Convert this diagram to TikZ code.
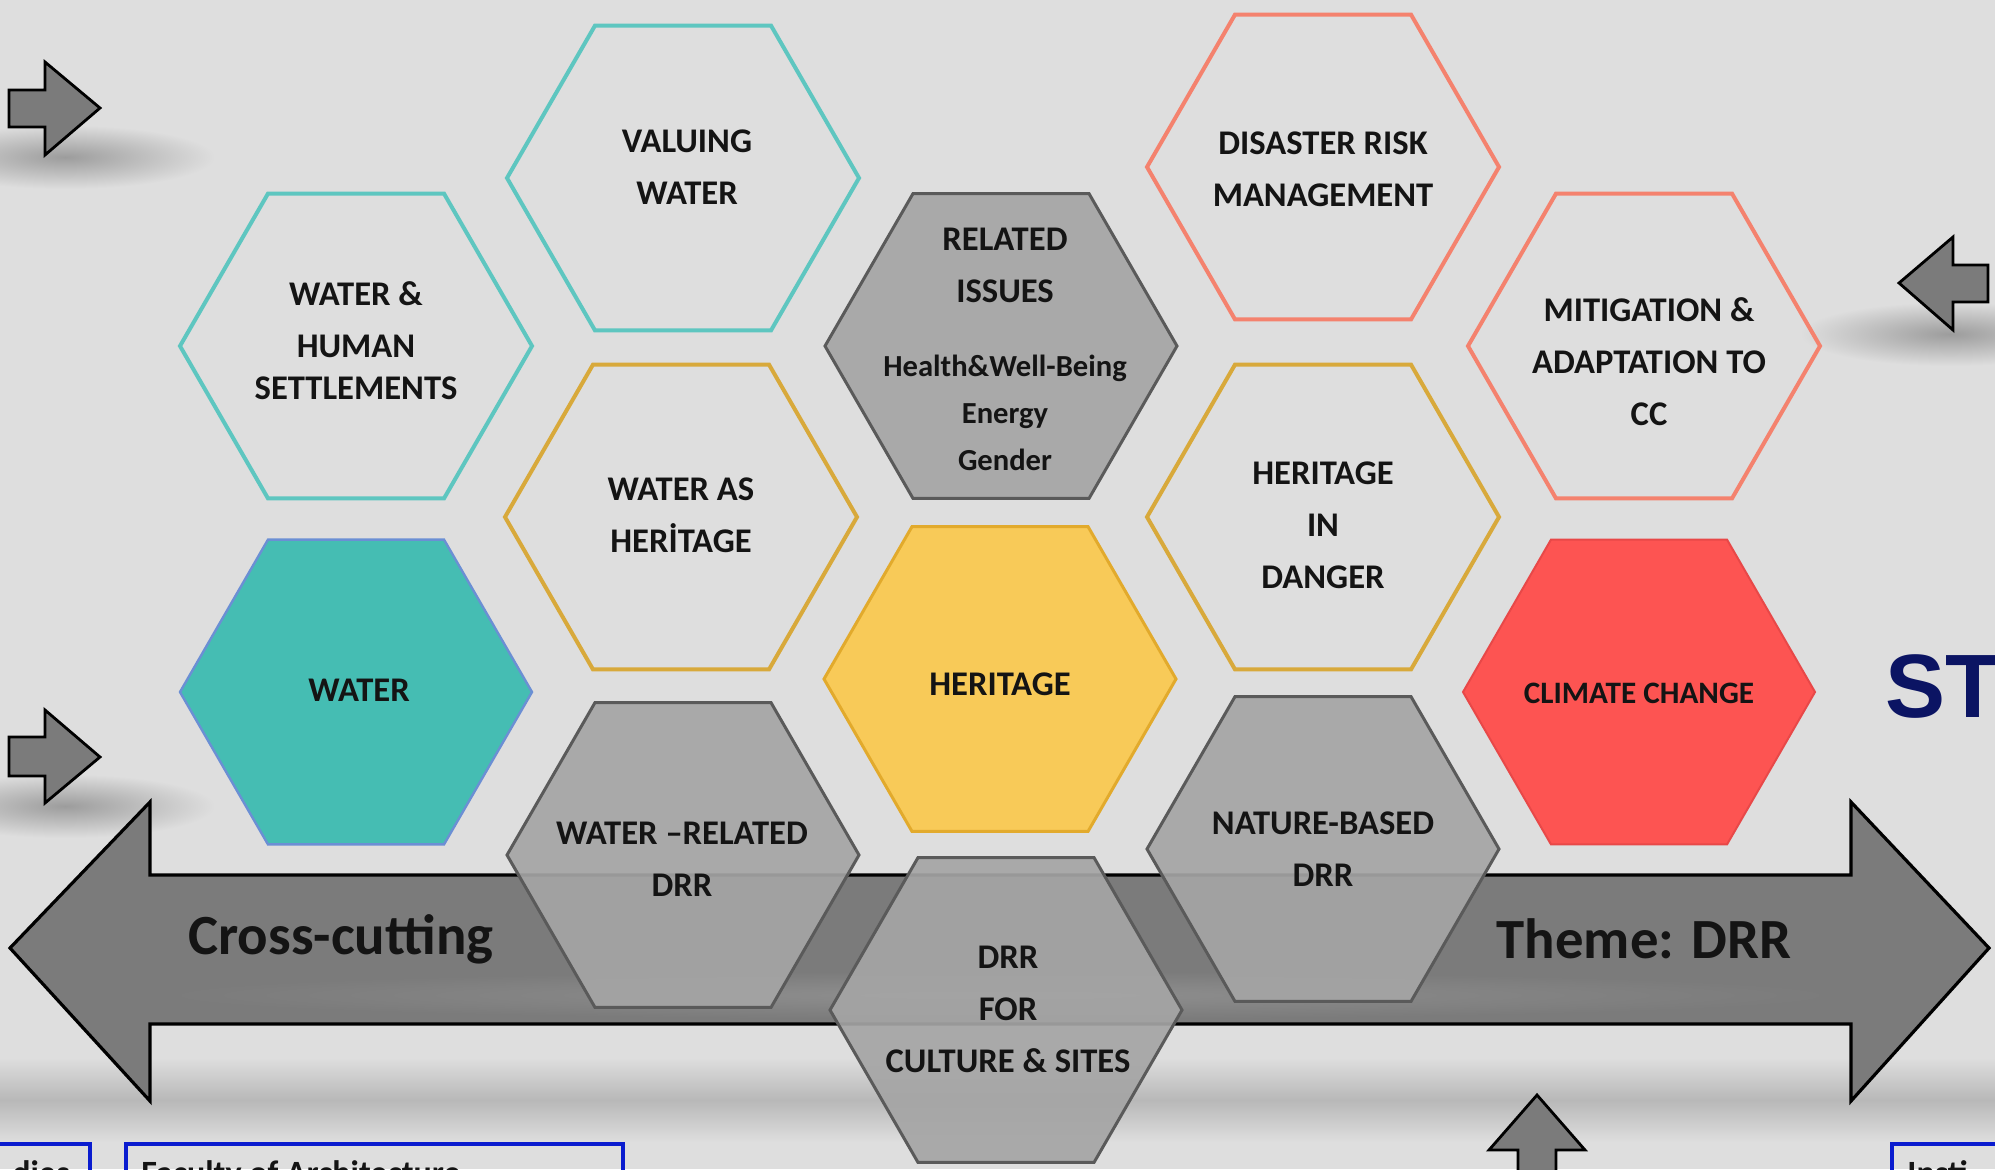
\documentclass[tikz,border=0pt]{standalone}
\usepackage{fontspec}
\setmainfont{Carlito}
\newfontfamily\arialf{Liberation Sans}
\usetikzlibrary{shapes.geometric}
\definecolor{bgc}{HTML}{DEDEDE}
\definecolor{shd}{HTML}{B8B8B8}
\definecolor{arrowc}{HTML}{7B7B7B}
\definecolor{tealo}{HTML}{5EC6C0}
\definecolor{tealf}{HTML}{45BDB3}
\definecolor{tealb}{HTML}{6B8FD4}
\definecolor{salo}{HTML}{F4826E}
\definecolor{goldo}{HTML}{D8A93B}
\definecolor{goldf}{HTML}{F8CA58}
\definecolor{goldb}{HTML}{E2AA2C}
\definecolor{redf}{HTML}{FD5452}
\definecolor{redo}{HTML}{E84848}
\definecolor{grayf}{HTML}{A5A5A5}
\definecolor{grayo}{HTML}{5A5A5A}
\definecolor{navy}{HTML}{0B1463}
\definecolor{boxblue}{HTML}{0A1CCF}
\definecolor{txt}{HTML}{141414}
\tikzset{
  hexbase/.style={regular polygon, regular polygon sides=6, minimum size=176pt, inner sep=0pt, line join=miter},
  tealhex/.style={hexbase, draw=tealo, line width=2pt},
  salhex/.style={hexbase, draw=salo, line width=2pt},
  goldhex/.style={hexbase, draw=goldo, line width=2pt},
  grayhex/.style={hexbase, draw=grayo, fill=grayf, fill opacity=.92, line width=1.5pt},
  waterhex/.style={hexbase, fill=tealf, draw=tealb, line width=1.2pt},
  herhex/.style={hexbase, fill=goldf, draw=goldb, line width=1.5pt},
  cchex/.style={hexbase, fill=redf, draw=redo, line width=1pt},
  lbl/.style={align=center, inner sep=0pt, text=txt, font=\bfseries\fontsize{17.3}{26}\selectfont},
  sublbl/.style={align=center, inner sep=0pt, text=txt, font=\bfseries\fontsize{15.3}{23.5}\selectfont},
  biglbl/.style={inner sep=0pt, text=txt, font=\bfseries\fontsize{28.4}{34}\selectfont},
  smallarrow/.style={fill=arrowc, draw=black, line width=1.4pt, line join=miter},
  bluebox/.style={draw=boxblue, line width=2.2pt, inner sep=0pt, anchor=north west},
  boxtxt/.style={inner sep=0pt, text=txt, font=\bfseries\fontsize{17}{20}\selectfont}
}
\begin{document}
\begin{tikzpicture}[x=0.5pt,y=-0.5pt]
\useasboundingbox (0,0) rectangle (1995,1169);
\clip (0,0) rectangle (1995,1169);
\fill[bgc] (0,0) rectangle (1995,1169);

% shadows
\shade[top color=bgc, bottom color=bgc, middle color=shd] (-100,1058) rectangle (2100,1142);
\shade[inner color=shd!85!black, outer color=bgc] (65,157) ellipse (150 and 32);
\shade[inner color=shd!85!black, outer color=bgc] (65,806) ellipse (150 and 32);
\shade[inner color=shd!85!black, outer color=bgc] (1950,334) ellipse (150 and 32);

% big double arrow
\draw[smallarrow, line width=1.6pt] (10,948) -- (150,802) -- (150,875) -- (1851,875) -- (1851,802) -- (1989,948)
  -- (1851,1101) -- (1851,1024) -- (150,1024) -- (150,1101) -- cycle;
\shade[inner color=arrowc!85!white, outer color=arrowc] (1000,995) ellipse (840 and 24);
\node[biglbl] (cc) at (341,939) {Cross-cutting};
\node[biglbl] (th) at (1644,939) {Theme: DRR};

% small arrows
\draw[smallarrow] (9,90) -- (45,90) -- (45,62) -- (100,108) -- (45,155) -- (45,127) -- (9,127) -- cycle;
\draw[smallarrow] (9,737) -- (45,737) -- (45,710) -- (100,757) -- (45,803) -- (45,776) -- (9,776) -- cycle;
\draw[smallarrow] (1988,265) -- (1953,265) -- (1953,237) -- (1899,283) -- (1953,330) -- (1953,302) -- (1988,302) -- cycle;
\draw[smallarrow] (1518,1200) -- (1518,1150) -- (1489,1150) -- (1537,1095) -- (1585,1150) -- (1556,1150) -- (1556,1200);

% hexagons
\node[tealhex] (h1) at (356,346) {};
\node[tealhex] (h2) at (683,178) {};
\node[grayhex] (h3) at (1001,346) {};
\node[salhex] (h4) at (1323,167) {};
\node[salhex] (h5) at (1644,346) {};
\node[goldhex] (h6) at (681,517) {};
\node[goldhex] (h7) at (1323,517) {};
\node[waterhex] (h8) at (356,692) {};
\node[herhex] (h9) at (1000,679) {};
\node[cchex] (h10) at (1639,692) {};
\node[grayhex] (h11) at (683,855) {};
\node[grayhex] (h12) at (1323,849) {};
\node[grayhex] (h13) at (1006,1010) {};

% labels
\node[lbl] (t1) at (356,341) {WATER \&\\HUMAN\\[-5pt]SETTLEMENTS};
\node[lbl] (t2) at (687,167) {VALUING\\WATER};
\node[lbl] (t3) at (1005,265) {RELATED\\ISSUES};
\node[sublbl] (t3b) at (1005,413) {Health\&Well-Being\\Energy\\Gender};
\node[lbl] (t4) at (1323,169) {DISASTER RISK\\MANAGEMENT};
\node[lbl] (t5) at (1649,362) {MITIGATION \&\\ADAPTATION TO\\CC};
\node[lbl] (t6) at (681,515) {WATER AS\\HERİTAGE};
\node[lbl] (t7) at (1323,525) {HERITAGE\\IN\\DANGER};
\node[lbl] (t8) at (359,690) {WATER};
\node[lbl] (t9) at (1000,684) {HERITAGE};
\node[lbl, font=\bfseries\fontsize{15.6}{20}\selectfont] (t10) at (1639,693) {CLIMATE CHANGE};
\node[lbl] (t11) at (682,859) {WATER –RELATED\\DRR};
\node[lbl] (t12) at (1323,849) {NATURE-BASED\\DRR};
\node[lbl] (t13) at (1008,1009) {DRR\\FOR\\CULTURE \& SITES};

% title fragment
\node[anchor=base west, inner sep=0pt, text=navy, font=\arialf\bfseries\fontsize{45}{50}\selectfont] (st) at (1885,717) {ST};

% bottom boxes
\node[bluebox, minimum width=54pt, minimum height=40pt] (b1) at (-20,1142) {};
\node[bluebox, minimum width=248.5pt, minimum height=40pt] (b2) at (124,1142) {};
\node[bluebox, minimum width=80pt, minimum height=40pt] (b3) at (1890,1142) {};
\node[boxtxt, anchor=north east] (bt1) at (70,1160) {dies};
\node[boxtxt, anchor=north west] (bt2) at (141,1160) {Faculty of Architecture};
\node[boxtxt, anchor=north west] (bt3) at (1907,1160) {Insti};
\end{tikzpicture}
\end{document}
